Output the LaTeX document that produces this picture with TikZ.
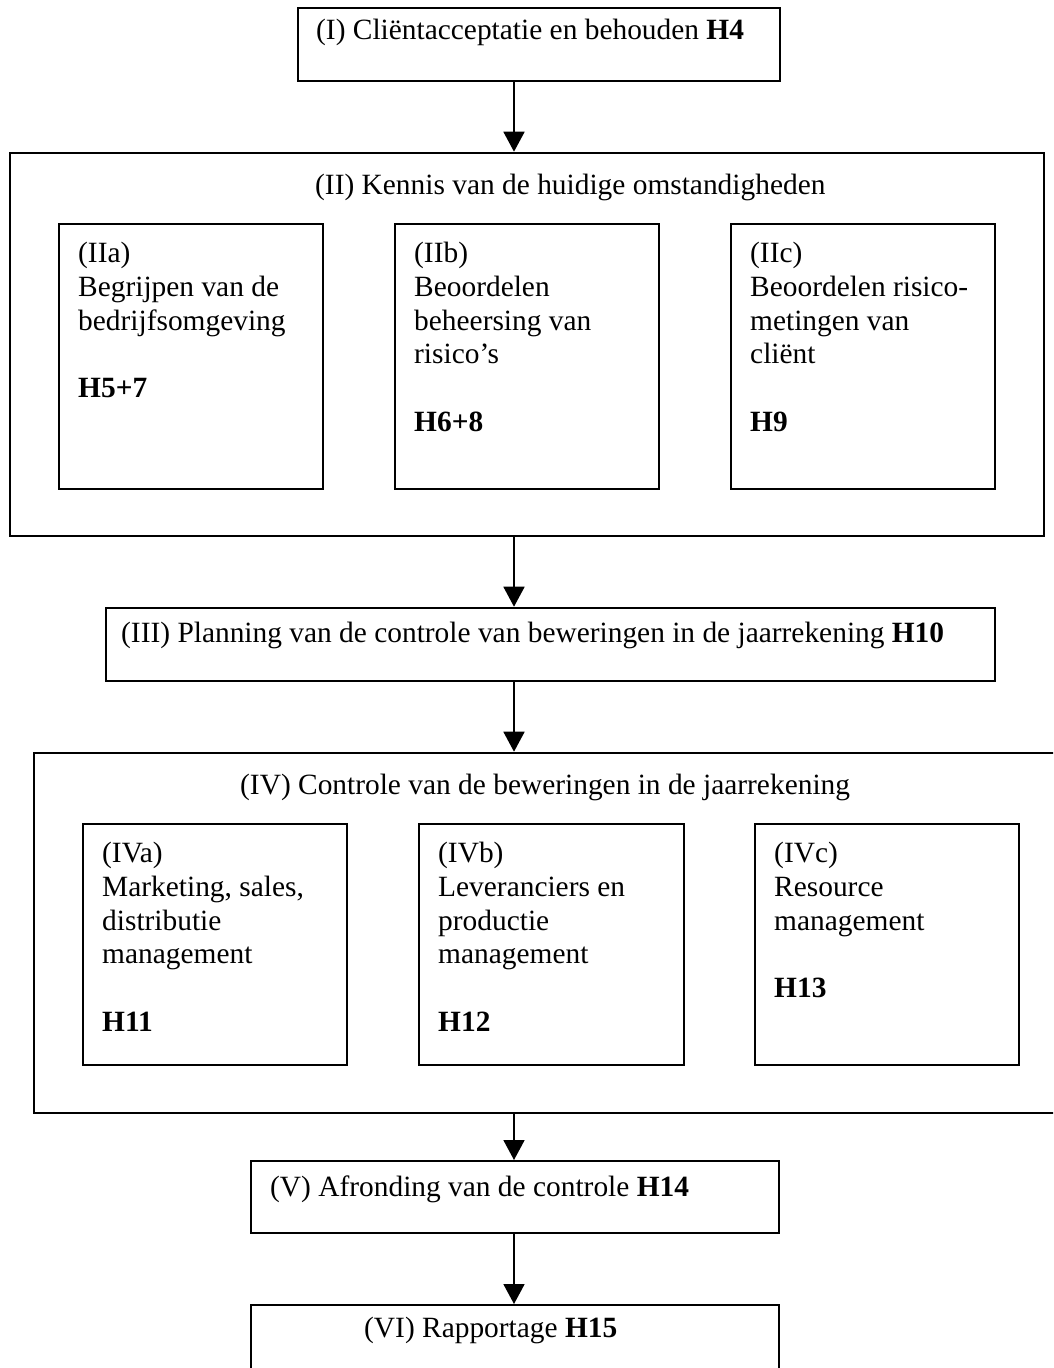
\documentclass[tikz,border=0pt]{standalone}
\usepackage{fontspec}
\setmainfont{Liberation Serif}
\usetikzlibrary{arrows.meta}

\tikzset{
  box/.style={draw, line width=1.8pt, rectangle, inner sep=0pt, anchor=north west},
  txt/.style={font=\fontsize{29.4pt}{33.7pt}\selectfont, inner sep=0pt, anchor=base west},
  subtxt/.style={txt, text width=240pt, align=flush left},
  flow/.style={line width=1.8pt, -{Triangle[width=21pt,length=20pt]}}
}

\begin{document}
\begin{tikzpicture}[x=1pt, y=-1pt]
  \useasboundingbox (0,0) rectangle (1053,1368);
  \fill[white] (0,0) rectangle (1053,1368);
  \clip (0,0) rectangle (1053,1368);

  % spine of the flow
  \coordinate (ax) at (514,0);

  % main stages and sub-stages
  \node[box, minimum width=482pt,  minimum height=72.7pt]  (I)   at (297,7.3) {};
  \node[box, minimum width=1034pt, minimum height=383.3pt] (II)  at (9,151.7) {};
  \node[box, minimum width=264pt,  minimum height=264.7pt] (IIa) at (58,223.3) {};
  \node[box, minimum width=264pt,  minimum height=264.7pt] (IIb) at (394,223.3) {};
  \node[box, minimum width=264pt,  minimum height=264.7pt] (IIc) at (730,223.3) {};
  \node[box, minimum width=889pt,  minimum height=73.3pt]  (III) at (105,606.7) {};
  \node[box, minimum width=1100pt, minimum height=360.3pt] (IV)  at (33,751.7) {};
  \node[box, minimum width=264pt,  minimum height=241pt]   (IVa) at (82,823.3) {};
  \node[box, minimum width=265pt,  minimum height=241pt]   (IVb) at (418,823.3) {};
  \node[box, minimum width=264pt,  minimum height=241pt]   (IVc) at (754,823.3) {};
  \node[box, minimum width=528pt,  minimum height=72pt]    (V)   at (250,1160) {};
  \node[box, minimum width=528pt,  minimum height=120pt]   (VI)  at (250,1304) {};

  % labels
  \node[txt] (tI)   at (316,39)    {(I) Cliëntacceptatie en behouden \textbf{H4}};
  \node[txt] (tII)  at (315,194)   {(II) Kennis van de huidige omstandigheden};
  \node[subtxt] (tIIa) at (78,262.8)  {(IIa)\\Begrijpen van de\\bedrijfsomgeving\\[33.7pt]\textbf{H5+7}};
  \node[subtxt] (tIIb) at (414,262.8) {(IIb)\\Beoordelen\\beheersing van\\risico’s\\[33.7pt]\textbf{H6+8}};
  \node[subtxt] (tIIc) at (750,262.8) {(IIc)\\Beoordelen risico-\\metingen van\\cliënt\\[33.7pt]\textbf{H9}};
  \node[txt] (tIII) at (121,642)   {(III) Planning van de controle van beweringen in de jaarrekening \textbf{H10}};
  \node[txt] (tIV)  at (240,794)   {(IV) Controle van de beweringen in de jaarrekening};
  \node[subtxt] (tIVa) at (102,862.8) {(IVa)\\Marketing, sales,\\distributie\\management\\[33.7pt]\textbf{H11}};
  \node[subtxt] (tIVb) at (438,862.8) {(IVb)\\Leveranciers en\\productie\\management\\[33.7pt]\textbf{H12}};
  \node[subtxt] (tIVc) at (774,862.8) {(IVc)\\Resource\\management\\[33.7pt]\textbf{H13}};
  \node[txt] (tV)   at (270,1196)  {(V) Afronding van de controle \textbf{H14}};
  \node[txt] (tVI)  at (364,1337)  {(VI) Rapportage \textbf{H15}};

  % connectors
  \draw[flow] (I.south -| ax)   -- (II.north -| ax);
  \draw[flow] (II.south -| ax)  -- (III.north -| ax);
  \draw[flow] (III.south -| ax) -- (IV.north -| ax);
  \draw[flow] (IV.south -| ax)  -- (V.north -| ax);
  \draw[flow] (V.south -| ax)   -- (VI.north -| ax);
\end{tikzpicture}
\end{document}
